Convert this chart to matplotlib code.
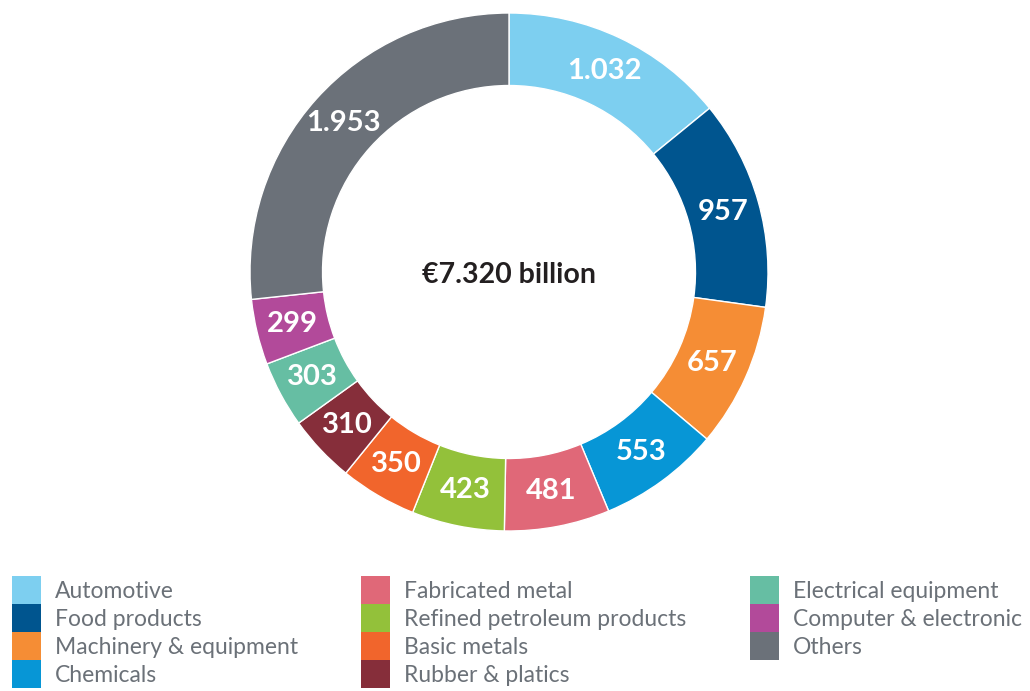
import matplotlib.pyplot as plt
from matplotlib.patches import Patch

# Sektory (kolejnosc zgodnie z ruchem wskazowek zegara od gory)
sectors = ["Automotive", "Food products", "Machinery & equipment", "Chemicals",
           "Fabricated metal", "Refined petroleum products", "Basic metals",
           "Rubber & platics", "Electrical equipment", "Computer & electronic", "Others"]
values = [1032, 957, 657, 553, 481, 423, 350, 310, 303, 299, 1953]
value_labels = ["1.032", "957", "657", "553", "481", "423", "350", "310", "303", "299", "1.953"]
colors = ["#7dcff0", "#00558f", "#f58d35", "#0796d6", "#e06878", "#93c13a",
          "#f1652c", "#862e3a", "#66bea3", "#b24a9a", "#6b7179"]
total_label = "€7.320 billion"

plt.rcParams['font.family'] = ['Lato', 'DejaVu Sans']

fig = plt.figure(figsize=(10.3, 6.91), dpi=100)
W, H = 1030, 691
cx, cy, R = 509, 272, 259
ax = fig.add_axes([(cx - R) / W, 1 - (cy + R) / H, 2 * R / W, 2 * R / H])

ring = 0.28
wedges, texts = ax.pie(values, colors=colors, startangle=90, counterclock=False,
                       radius=1, labels=value_labels, labeldistance=1 - ring / 2,
                       wedgeprops=dict(width=ring, edgecolor="white", linewidth=1),
                       textprops=dict(color="white", fontsize=21, fontweight="bold",
                                      ha="center", va="center"))
ax.set_xlim(-1, 1)
ax.set_ylim(-1, 1)
ax.set_aspect("equal")
ax.axis("off")

ax.text(0, -0.01, total_label, ha="center", va="center", fontsize=20.5,
        fontweight="bold", color="#231f20")

# Legenda
fs = 16.5
handles = [Patch(facecolor=c, edgecolor="none") for c in colors]
fig.legend(handles, sectors, ncol=3, loc="upper left",
           bbox_to_anchor=(12 / W, 1 - 576 / H), bbox_transform=fig.transFigure,
           frameon=False, fontsize=fs, labelcolor="#6b7178",
           handlelength=1.27, handleheight=1.51, handletextpad=0.61,
           labelspacing=0.0, columnspacing=2.75, borderpad=0, borderaxespad=0)

fig.savefig("out.png", dpi=100)
